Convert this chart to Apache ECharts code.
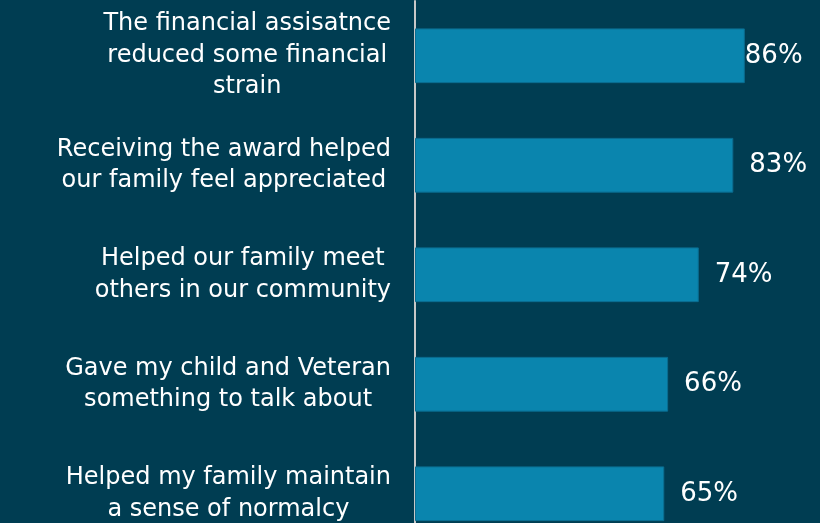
<!DOCTYPE html>
<html>
<head>
<meta charset="utf-8">
<script src="https://cdn.jsdelivr.net/npm/echarts@6/dist/echarts.min.js"></script>
<style>
  html, body { margin: 0; padding: 0; background: #003d52; }
  #chart { width: 820px; height: 523px; }
</style>
</head>
<body>
<div id="chart"></div>
<script>
// Survey statements (top to bottom) and share of families agreeing (%)
const statements = [
  'The financial assisatnce\nreduced some financial\nstrain',
  'Receiving the award helped\nour family feel appreciated',
  'Helped our family meet\nothers in our community',
  'Gave my child and Veteran\nsomething to talk about',
  'Helped my family maintain\na sense of normalcy'
];
const agreePct = [86, 83, 74, 66, 65];

const chart = echarts.init(document.getElementById('chart'));

chart.setOption({
  backgroundColor: '#003d52',
  animation: false,
  grid: {
    left: 415, width: 383.5, top: 1, height: 547.5,
    containLabel: false, outerBoundsMode: 'none'
  },
  xAxis: {
    type: 'value', min: 0, max: 100,
    show: false
  },
  yAxis: {
    type: 'category',
    inverse: true,
    data: statements,
    axisLine: { show: true, lineStyle: { color: '#c8c8c8', width: 2 } },
    axisTick: { show: false },
    axisLabel: {
      margin: 24,
      align: 'right',
      color: '#ffffff',
      fontFamily: 'DejaVu Sans',
      fontSize: 24,
      lineHeight: 31.5,
      formatter: v => '{c|' + v + '}',
      rich: {
        c: { align: 'center', color: '#ffffff', fontFamily: 'DejaVu Sans', fontSize: 24, lineHeight: 31.5 }
      }
    }
  },
  series: [{
    type: 'bar',
    data: agreePct.map((v, i) => i === 0 ? { value: v, label: { distance: 0 } } : v),
    barCategoryGap: '50%',
    itemStyle: { color: '#0a85ae', borderColor: '#0b6d90', borderWidth: 1 },
    label: {
      show: true,
      position: 'right',
      distance: 16,
      color: '#ffffff',
      fontFamily: 'DejaVu Sans',
      fontSize: 26,
      formatter: p => p.value + '%'
    }
  }]
});
</script>
</body>
</html>
